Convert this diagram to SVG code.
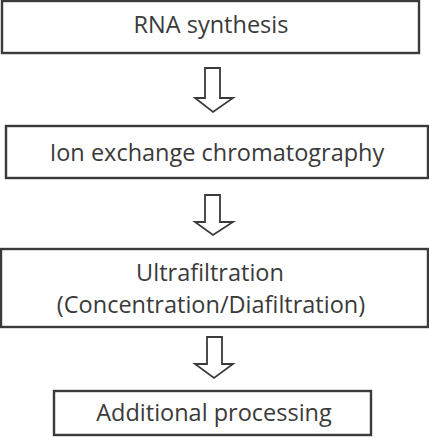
<svg xmlns="http://www.w3.org/2000/svg" width="429" height="438" viewBox="0 0 429 438">
<style>
.box{fill:#fff;stroke:#3a3a3a;stroke-width:2.4}
.lbl{font-family:"Open Sans","DejaVu Sans",sans-serif;font-size:23.5px;font-weight:500;fill:#3a3a3a;text-anchor:middle}
.arr{fill:#fff;stroke:#3a3a3a;stroke-width:1.8;stroke-linejoin:miter}
</style>
<rect width="429" height="438" fill="#fff"/>
<g id="connectors">
<path class="arr" d="M205,68 H220 V98 H233 L213,112 L195,98 H205 Z"/>
<path class="arr" d="M205,195 H220 V222 H233 L213,235 L195,222 H205 Z"/>
<path class="arr" d="M207,337 H222 V364 H233 L214,378 L195,364 H207 Z"/>
</g>
<g id="n1"><rect class="box" x="2" y="1" width="417" height="52"/><text class="lbl" x="211" y="33">RNA synthesis</text></g>
<g id="n2"><rect class="box" x="6" y="126" width="422" height="52"/><text class="lbl" x="217" y="161">Ion exchange chromatography</text></g>
<g id="n3"><rect class="box" x="1" y="249" width="427" height="78"/><text class="lbl" x="210" y="281">Ultrafiltration</text><text class="lbl" x="211" y="313">(Concentration/Diafiltration)</text></g>
<g id="n4"><rect class="box" x="54" y="391" width="317" height="44"/><text class="lbl" x="214" y="421">Additional processing</text></g>
</svg>
